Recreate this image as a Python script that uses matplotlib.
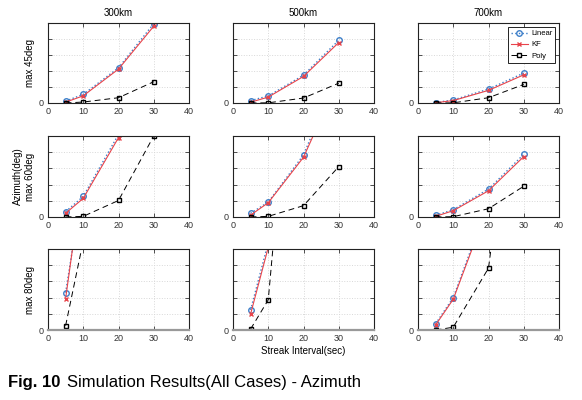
import matplotlib
matplotlib.use("Agg")
import matplotlib.pyplot as plt
from matplotlib.transforms import offset_copy

plt.rcParams['font.family'] = ['Liberation Sans', 'DejaVu Sans']

x = [5, 10, 20, 30]
distances = ["300km", "500km", "700km"]
row_labels = ["max 45deg", "Azimuth(deg)\nmax 60deg", "max 80deg"]

# values in units of one y-grid step (5 steps per panel)
linear = [
    [[0.12, 0.54, 2.20, 4.96], [0.15, 0.44, 1.74, 3.92], [0.03, 0.19, 0.87, 1.87]],
    [[0.33, 1.27, 5.10, 10.5], [0.23, 0.92, 3.83, 9.0], [0.10, 0.45, 1.72, 3.87]],
    [[2.31, 9.2, 30.0, 60.0], [1.24, 5.4, 20.0, 40.0], [0.39, 2.00, 7.9, 16.0]],
]
kf = [
    [[0.05, 0.45, 2.12, 4.80], [0.05, 0.37, 1.66, 3.78], [0.02, 0.15, 0.79, 1.76]],
    [[0.23, 1.15, 4.90, 10.0], [0.12, 0.88, 3.69, 8.5], [0.04, 0.39, 1.62, 3.73]],
    [[1.94, 9.8, 30.0, 60.0], [0.99, 5.1, 20.0, 40.0], [0.31, 1.90, 7.7, 15.5]],
]
poly = [
    [[0.0, 0.06, 0.33, 1.33], [0.0, 0.01, 0.31, 1.24], [0.0, 0.01, 0.33, 1.16]],
    [[0.0, 0.04, 1.02, 5.00], [0.0, 0.04, 0.70, 3.11], [0.0, 0.02, 0.51, 1.90]],
    [[0.27, 5.5, 20.0, 40.0], [0.06, 1.86, 26.0, 50.0], [0.0, 0.17, 3.82, 20.7]],
]

fig = plt.figure(figsize=(5.82, 4.0), dpi=100)

lefts = [48/582, 233/582, 418/582]
width = 141/582
bottoms = [1-103/400, 1-217/400, 1-330/400]
heights = [80/400, 81/400, 81/400]

for r in range(3):
    for c in range(3):
        ax = fig.add_axes([lefts[c], bottoms[r], width, heights[r]])
        ax.plot(x, linear[r][c], linestyle=':', color='#3d7fc9', marker='o',
                markerfacecolor='none', markersize=4, linewidth=1.0, label='Linear')
        ax.plot(x, kf[r][c], linestyle='-', color='#e8434a', marker='x',
                markersize=3.5, linewidth=0.8, label='KF')
        ax.plot(x, poly[r][c], linestyle=(0, (6, 4)), color='black', marker='s',
                markerfacecolor='none', markersize=3.5, linewidth=0.7, label='Poly')
        ax.set_xlim(0, 40)
        ax.set_ylim(0, 5)
        ax.set_xticks([0, 10, 20, 30, 40])
        ax.set_yticks([0, 1, 2, 3, 4, 5])
        ax.set_yticklabels(['0', '', '', '', '', ''])
        ax.grid(True, color='#d8d8d8', linestyle=':', linewidth=0.7)
        ax.tick_params(direction='in', length=3, width=0.6, labelsize=6.5,
                       top=True, right=True, pad=3, colors='#333333')
        for s in ax.spines.values():
            s.set_linewidth(0.8)
            s.set_color('#222222')
        if r == 2:
            ax.spines['bottom'].set_color('#999999')
            ax.spines['bottom'].set_linewidth(1.6)
        if r == 0:
            ax.set_title(distances[c], fontsize=7, pad=5)
        if c == 0:
            ax.set_ylabel(row_labels[r], fontsize=7, labelpad=3)
        if r == 2 and c == 1:
            ax.set_xlabel("Streak Interval(sec)", fontsize=7, labelpad=2)
        if r == 0 and c == 2:
            leg = ax.legend(loc='upper right', fontsize=5.5, frameon=True, fancybox=False,
                            edgecolor='black', framealpha=1, handlelength=2.2,
                            borderpad=0.4, labelspacing=0.5, handletextpad=0.4,
                            borderaxespad=0.5)
            leg.get_frame().set_linewidth(0.6)

t1 = fig.text(8/582, 1-382/400, "Fig. 10", fontsize=12, fontweight='bold',
              va='center', ha='left')
renderer = fig.canvas.get_renderer()
bb = t1.get_window_extent(renderer)
fig.text((bb.x1 + 7)/582, 1-382/400, "Simulation Results(All Cases) - Azimuth",
         fontsize=12, va='center', ha='left')

fig.savefig("out.png", dpi=100)
